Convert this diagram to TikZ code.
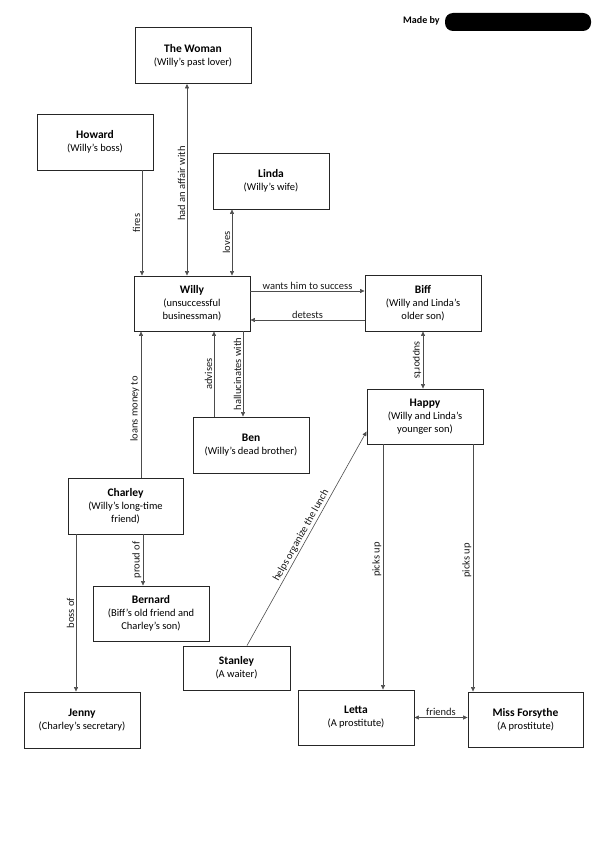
\documentclass[tikz,border=0pt]{standalone}
\usepackage{fontspec}
\setmainfont{Carlito}
\usetikzlibrary{arrows.meta}
\newcommand{\nm}[1]{{\bfseries\fontsize{11.5}{13}\selectfont #1}}
\begin{document}
\begin{tikzpicture}[x=1pt,y=-1pt,
  person/.style={draw=black!85, line width=0.9pt, fill=white, align=center,
    minimum width=116pt, minimum height=56pt, inner sep=2pt, font=\fontsize{10.5}{13}\selectfont},
  rel/.style={draw=black!70, line width=0.6pt, -{Triangle[width=4pt,length=4.5pt]}},
  both/.style={draw=black!70, line width=0.6pt, {Triangle[width=4pt,length=4.5pt]}-{Triangle[width=4pt,length=4.5pt]}},
  lbl/.style={font=\fontsize{10.5}{11}\selectfont, inner sep=1.5pt, text=black!90},
  up/.style={lbl, rotate=90, anchor=south},
  down/.style={lbl, rotate=-90, anchor=north}
]
\useasboundingbox (0,0) rectangle (599,848);

% header
\node[anchor=west, font=\fontsize{10}{12}\selectfont\bfseries, inner sep=0] (made) at (403,21) {Made by};
\fill[black, rounded corners=8pt] (445,13) rectangle (591,31);

% people
\node[person] (woman) at (193,55.5) {\nm{The Woman}\\(Willy’s past lover)};
\node[person] (howard) at (95,142) {\nm{Howard}\\(Willy’s boss)};
\node[person] (linda) at (271,181) {\nm{Linda}\\(Willy’s wife)};
\node[person, minimum height=55pt] (willy) at (192,303.5) {\nm{Willy}\\(unsuccessful\\businessman)};
\node[person] (biff) at (423,303) {\nm{Biff}\\(Willy and Linda’s\\older son)};
\node[person, minimum height=55pt] (happy) at (425,416.5) {\nm{Happy}\\(Willy and Linda’s\\younger son)};
\node[person] (ben) at (251,445) {\nm{Ben}\\(Willy’s dead brother)};
\node[person, minimum width=115pt] (charley) at (125.5,506) {\nm{Charley}\\(Willy’s long-time\\friend)};
\node[person, minimum height=55pt] (bernard) at (151,613.5) {\nm{Bernard}\\(Biff’s old friend and\\Charley’s son)};
\node[person, minimum width=107pt, minimum height=44pt] (stanley) at (236.5,668) {\nm{Stanley}\\(A waiter)};
\node[person] (jenny) at (82,720) {\nm{Jenny}\\(Charley’s secretary)};
\node[person, minimum height=55pt] (letta) at (356,717.5) {\nm{Letta}\\(A prostitute)};
\node[person, minimum width=115pt, minimum height=55pt] (missf) at (525.5,719.5) {\nm{Miss Forsythe}\\(A prostitute)};

% relations
\draw[both] ([xshift=-6pt]woman.south) -- ([xshift=-6pt]woman.south |- willy.north)
  node[up, pos=0.52] {had an affair with};
\draw[rel] ([xshift=47pt]howard.south) -- ([xshift=47pt]howard.south |- willy.north)
  node[up, midway] {fires};
\draw[both] ([xshift=-39pt]linda.south) -- ([xshift=-39pt]linda.south |- willy.north)
  node[up, midway] {loves};
\draw[rel] ([yshift=12.5pt]willy.east) -- ([yshift=12.5pt]willy.east -| biff.west)
  node[lbl, midway, above] {wants him to success};
\draw[rel] ([yshift=-17pt]biff.west) -- ([yshift=-17pt]biff.west -| willy.east)
  node[lbl, midway, above] {detests};
\draw[both] (biff.south) -- (biff.south |- happy.north)
  node[down, midway] {supports};
\draw[rel] ([xshift=51pt]willy.south) -- ([xshift=51pt]willy.south |- ben.north)
  node[up, midway] {hallucinates with};
\draw[rel] ([xshift=-37pt]ben.north) -- ([xshift=-37pt]ben.north |- willy.south)
  node[up, midway] {advises};
\draw[rel] ([xshift=15.5pt]charley.north) -- ([xshift=15.5pt]charley.north |- willy.south)
  node[up, pos=0.47] {loans money to};
\draw[rel] ([xshift=17.5pt]charley.south) -- ([xshift=17.5pt]charley.south |- bernard.north)
  node[up, midway] {proud of};
\draw[rel] ([xshift=-49.5pt]charley.south) -- ([xshift=-49.5pt]charley.south |- jenny.north)
  node[up, midway] {boss of};
\draw[rel] ([xshift=10.5pt]stanley.north) -- ([yshift=-15pt]happy.west)
  node[lbl, midway, sloped, above] {helps organize the lunch};
\draw[rel] ([xshift=-42pt]happy.south) -- ([xshift=-42pt]happy.south |- letta.north)
  node[up, pos=0.47] {picks up};
\draw[rel] ([xshift=48pt]happy.south) -- ([xshift=48pt]happy.south |- missf.north)
  node[up, pos=0.47] {picks up};
\draw[both] (letta.east) -- (letta.east -| missf.west)
  node[lbl, midway, above] {friends};
\end{tikzpicture}
\end{document}
